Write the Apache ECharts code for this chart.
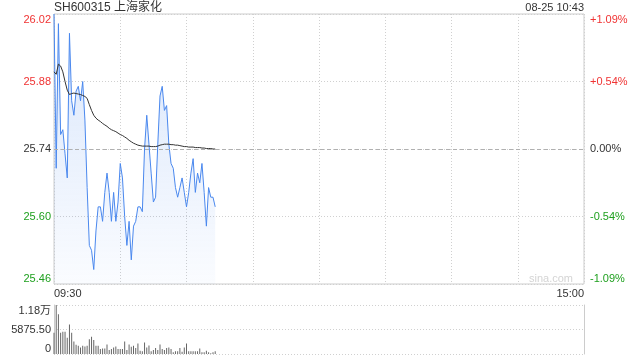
<!DOCTYPE html>
<html><head><meta charset="utf-8">
<script src="https://cdn.jsdelivr.net/npm/echarts@6/dist/echarts.min.js"></script>
<style>html,body{margin:0;padding:0;background:#fff}#c{width:640px;height:360px}</style>
</head><body><div id="c"></div>
<script>
const prevClose = 25.74;
const priceTicks = [25.46, 25.60, 25.74, 25.88, 26.02];
const priceTickLabels = ['25.46', '25.60', '25.74', '25.88', '26.02'];
const pctTickLabels = ['-1.09%', '-0.54%', '0.00%', '+0.54%', '+1.09%'];
const volTicks = [0, 5875.5, 11751];
const volTickLabels = ['0', '5875.50', '1.18万'];

const prices = [
  26.02, 25.70, 26.00, 25.77, 25.78, 25.73, 25.68, 25.98, 25.84, 25.81,
  25.86, 25.87, 25.84, 25.88, 25.80, 25.66, 25.54, 25.53, 25.49, 25.57,
  25.62, 25.62, 25.59, 25.65, 25.69, 25.65, 25.59, 25.65, 25.59, 25.63,
  25.71, 25.68, 25.60, 25.54, 25.59, 25.51, 25.58, 25.59, 25.62, 25.62,
  25.61, 25.74, 25.81, 25.75, 25.69, 25.63, 25.64, 25.75, 25.85, 25.87,
  25.82, 25.83, 25.75, 25.71, 25.70, 25.66, 25.64, 25.66, 25.68, 25.65,
  25.62, 25.65, 25.69, 25.72, 25.65, 25.69, 25.67, 25.71, 25.65, 25.58,
  25.66, 25.64, 25.64, 25.62
];
const avgPrices = [
  25.900, 25.895, 25.916, 25.912, 25.900, 25.880, 25.862, 25.853, 25.855, 25.856,
  25.855, 25.854, 25.853, 25.851, 25.849, 25.845, 25.832, 25.820, 25.810, 25.804,
  25.800, 25.797, 25.793, 25.790, 25.787, 25.783, 25.780, 25.778, 25.776, 25.773,
  25.770, 25.768, 25.765, 25.762, 25.758, 25.755, 25.752, 25.750, 25.748, 25.747,
  25.746, 25.746, 25.746, 25.746, 25.745, 25.745, 25.745, 25.746, 25.748, 25.749,
  25.750, 25.750, 25.750, 25.749, 25.749, 25.748, 25.748, 25.747, 25.746, 25.745,
  25.745, 25.744, 25.744, 25.744, 25.743, 25.743, 25.743, 25.742, 25.742, 25.741,
  25.741, 25.741, 25.740, 25.740
];
const volumes = [
  5090, 11751, 9560, 5090, 5330, 5330, 3920, 7050, 5090, 2980,
  2190, 1960, 1570, 1960, 1800, 1960, 3520, 4150, 3370, 1960,
  1960, 1175, 1330, 1330, 2270, 940, 1175, 1570, 1800, 1175,
  1175, 1175, 2980, 940, 2270, 1720, 1960, 1410, 2500, 780,
  630, 2740, 1570, 2040, 630, 940, 1410, 940, 2270, 1175,
  940, 1410, 1570, 1175, 390, 630, 630, 1410, 550, 1570,
  2500, 630, 630, 630, 630, 630, 1330, 390, 390, 780,
  390, 160, 390, 630
];

// trading-minute categories 09:30-11:30, 13:00-15:00
const times = [];
function pad(n) { return (n < 10 ? '0' : '') + n; }
for (let m = 9 * 60 + 30; m <= 11 * 60 + 30; m++) times.push(pad(Math.floor(m / 60)) + ':' + pad(m % 60));
for (let m = 13 * 60 + 1; m <= 15 * 60; m++) times.push(pad(Math.floor(m / 60)) + ':' + pad(m % 60));

const FONT = "Arial, 'Liberation Sans', 'Noto Sans CJK SC', sans-serif";
const RED = '#f03333', GREEN = '#1fa01f', DARK = '#333';

function nearestIdx(arr, v) {
  let best = 0;
  for (let i = 1; i < arr.length; i++) if (Math.abs(arr[i] - v) < Math.abs(arr[best] - v)) best = i;
  return best;
}
function priceColor(v) {
  const p = priceTicks[nearestIdx(priceTicks, Number(v))];
  if (p > prevClose + 1e-6) return RED;
  if (p < prevClose - 1e-6) return GREEN;
  return DARK;
}
const dotted = { color: '#d0d0d0', type: [1, 2], width: 1 };

const chart = echarts.init(document.getElementById('c'), null, { renderer: 'canvas' });
chart.setOption({
  animation: false,
  textStyle: { fontFamily: FONT },
  title: [
    { text: 'SH600315 上海家化', left: 54, top: 2, padding: 0,
      textStyle: { fontSize: 12, fontWeight: 'normal', color: DARK, fontFamily: FONT } },
    { text: '08-25 10:43', right: 56, top: 2, padding: 0,
      textStyle: { fontSize: 11, fontWeight: 'normal', color: DARK, fontFamily: FONT } }
  ],
  graphic: [
    { type: 'text', right: 67, top: 273, silent: true,
      style: { text: 'sina.com', fill: '#d4d4d4', font: '11px ' + FONT } }
  ],
  grid: [
    { left: 54, width: 530, top: 14, height: 270, show: true, borderColor: '#cccccc', borderWidth: 1, containLabel: false },
    { left: 54, width: 530, top: 305, height: 49, containLabel: false }
  ],
  xAxis: [
    { type: 'category', gridIndex: 0, data: times, boundaryGap: false,
      axisLine: { show: false }, axisTick: { show: false },
      splitLine: { show: true, interval: function (i) { return i % 30 === 0; }, lineStyle: dotted },
      axisLabel: { interval: function (i) { return i === 0 || i === times.length - 1; },
        showMinLabel: true, showMaxLabel: true, alignMinLabel: 'left', alignMaxLabel: 'right',
        margin: 4, fontSize: 11, color: DARK, fontFamily: FONT } },
    { type: 'category', gridIndex: 1, data: times, boundaryGap: false,
      axisLine: { show: false }, axisTick: { show: false }, axisLabel: { show: false },
      splitLine: { show: false } }
  ],
  yAxis: [
    { type: 'value', gridIndex: 0, min: priceTicks[0], max: priceTicks[priceTicks.length - 1], interval: 0.14,
      axisLine: { show: false }, axisTick: { show: false },
      splitLine: { show: true, lineStyle: dotted },
      axisLabel: { margin: 3, fontSize: 11, fontFamily: FONT,
        verticalAlignMinLabel: 'bottom', verticalAlignMaxLabel: 'top',
        formatter: function (v) { return priceTickLabels[nearestIdx(priceTicks, v)]; },
        color: priceColor } },
    { type: 'value', gridIndex: 0, position: 'right', min: priceTicks[0], max: priceTicks[priceTicks.length - 1], interval: 0.14,
      axisLine: { show: false }, axisTick: { show: false }, splitLine: { show: false },
      axisLabel: { margin: 6, fontSize: 11, fontFamily: FONT,
        verticalAlignMinLabel: 'bottom', verticalAlignMaxLabel: 'top',
        formatter: function (v) { return pctTickLabels[nearestIdx(priceTicks, v)]; },
        color: priceColor } },
    { type: 'value', gridIndex: 1, min: volTicks[0], max: volTicks[volTicks.length - 1], interval: 5875.5,
      axisLine: { show: true, lineStyle: { color: '#cccccc', width: 1 } }, axisTick: { show: false },
      splitLine: { show: true, lineStyle: dotted },
      axisLabel: { margin: 3, fontSize: 11, color: DARK, fontFamily: FONT,
        verticalAlignMinLabel: 'bottom', verticalAlignMaxLabel: 'top',
        formatter: function (v) { return volTickLabels[nearestIdx(volTicks, v)]; } } },
    { type: 'value', gridIndex: 1, position: 'right', min: volTicks[0], max: volTicks[volTicks.length - 1], interval: 5875.5,
      axisLine: { show: true, lineStyle: { color: '#cccccc', width: 1 } }, axisTick: { show: false },
      splitLine: { show: false }, axisLabel: { show: false } }
  ],
  series: [
    { type: 'line', xAxisIndex: 0, yAxisIndex: 0, data: prices, showSymbol: false, symbol: 'none',
      lineStyle: { color: '#4a88ee', width: 1 },
      areaStyle: { color: { type: 'linear', x: 0, y: 0, x2: 0, y2: 1,
        colorStops: [{ offset: 0, color: 'rgba(74,136,238,0.30)' }, { offset: 1, color: 'rgba(74,136,238,0.04)' }] } },
      markLine: { silent: true, symbol: 'none', label: { show: false },
        lineStyle: { color: '#b0b0b0', type: [4, 3], width: 1 },
        data: [{ yAxis: prevClose }] },
      z: 3 },
    { type: 'line', xAxisIndex: 0, yAxisIndex: 0, data: avgPrices, showSymbol: false, symbol: 'none',
      lineStyle: { color: '#333333', width: 1 }, z: 4 },
    { type: 'bar', xAxisIndex: 1, yAxisIndex: 2, data: volumes, barWidth: 1,
      itemStyle: { color: '#666666' } }
  ]
});
</script>
</body></html>
